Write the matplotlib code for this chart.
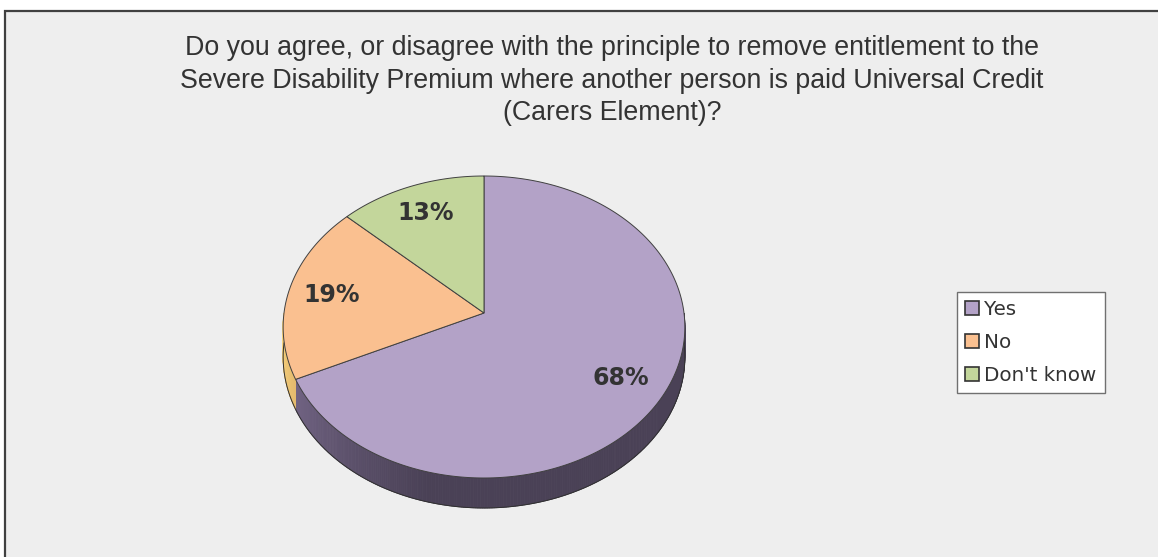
import numpy as np
import matplotlib.pyplot as plt
from matplotlib.patches import Polygon, Patch, Rectangle
from matplotlib.colors import to_rgb

# chart data
categories = ['Yes', 'No', "Don't know"]
values = [68, 19, 13]
pct_labels = ['68%', '19%', '13%']
top_colors = ['#b3a2c7', '#fac090', '#c3d69b']
side_colors = ['#4a4156', '#b07a48', '#8c9c6a']
title = ('Do you agree, or disagree with the principle to remove entitlement to the\n'
         'Severe Disability Premium where another person is paid Universal Credit\n'
         '(Carers Element)?')

W, H = 1158, 557
fig = plt.figure(figsize=(W / 100, H / 100), dpi=100)
fig.patch.set_facecolor('white')
ax = fig.add_axes([0, 0, 1, 1])
ax.set_xlim(0, W)
ax.set_ylim(H, 0)
ax.axis('off')

# chart area
ax.add_patch(Rectangle((4.5, 10.5), W + 10, H + 10, facecolor='#eeeeee',
                       edgecolor='#404040', linewidth=1.6, zorder=0))

# 3d pie geometry (pixels)
cx, cy = 484, 313
rx, ry, k = 200, 149.7, 0.0927
depth = 30


def proj(t, r=1.0):
    X = r * np.cos(t)
    Y = r * np.sin(t)
    s = 1 + k * Y
    return cx + rx * X / s, cy - ry * Y / s


# wedge angles, clockwise from 12 o'clock
fr = np.array(values, float) / sum(values)
starts = np.pi / 2 - 2 * np.pi * np.concatenate([[0], np.cumsum(fr)[:-1]])
ends = starts - 2 * np.pi * fr


def side_shade(t, base):
    # lighter on the left of the front wall, darker towards the right
    ang = np.degrees(t) % 360
    f = np.clip((ang - 180) / 75, 0, 1)
    c = np.array(to_rgb(base))
    light = np.clip(c * 1.8, 0, 1)
    return light * (1 - f) + c * f


# side wall (front half only)
for i in range(len(values)):
    a0, a1 = ends[i], starts[i]
    ts = np.linspace(a0, a1, 400)
    for j in range(len(ts) - 1):
        t0, t1 = ts[j], ts[j + 1]
        tm = 0.5 * (t0 + t1)
        if np.sin(tm) > 0:
            continue
        x0, y0 = proj(t0)
        x1, y1 = proj(t1)
        ax.add_patch(Polygon([(x0, y0), (x1, y1), (x1, y1 + depth), (x0, y0 + depth)],
                             closed=True, facecolor=side_shade(tm, side_colors[i]),
                             edgecolor=side_shade(tm, side_colors[i]), linewidth=0.6,
                             zorder=2))

# outline of the bottom edge
tb = np.linspace(np.pi, 2 * np.pi, 300)
bx, by = proj(tb)
ax.plot(bx, by + depth, color='#303030', linewidth=0.7, zorder=3)
for t in (np.pi, 2 * np.pi):
    x, y = proj(t)
    ax.plot([x, x], [y, y + depth], color='#303030', linewidth=0.6, zorder=3)

# top faces
for i in range(len(values)):
    ts = np.linspace(starts[i], ends[i], 300)
    px, py = proj(ts)
    pts = [(cx, cy)] + list(zip(px, py))
    ax.add_patch(Polygon(pts, closed=True, facecolor=top_colors[i],
                         edgecolor='#404040', linewidth=0.7, zorder=4))

# percentage labels
for i in range(len(values)):
    tm = 0.5 * (starts[i] + ends[i])
    lx, ly = proj(tm, 0.78)
    ax.text(lx, ly, pct_labels[i], ha='center', va='center', fontsize=17,
            fontweight='bold', color='#333333', family='DejaVu Sans', zorder=5)

# title
ax.text(612, 80.5, title, ha='center', va='center', fontsize=19.3,
        family='Liberation Sans', color='#333333', linespacing=1.32)

# legend
handles = [Patch(facecolor=c, edgecolor='#333333', linewidth=1.2) for c in top_colors]
leg = ax.legend(handles, categories, loc='upper left',
                bbox_to_anchor=(957 / W, 1 - 292 / H), bbox_transform=fig.transFigure,
                borderaxespad=0, frameon=True, fancybox=False, shadow=False,
                framealpha=1, prop={'family': 'DejaVu Sans', 'size': 14.3},
                handlelength=0.7, handleheight=0.7, handletextpad=0.25,
                labelspacing=0.7, borderpad=0.42)
leg.get_frame().set_edgecolor('#707070')
leg.get_frame().set_linewidth(1.0)
for t in leg.get_texts():
    t.set_color('#333333')

fig.savefig('out.png', dpi=100, facecolor=fig.get_facecolor())
